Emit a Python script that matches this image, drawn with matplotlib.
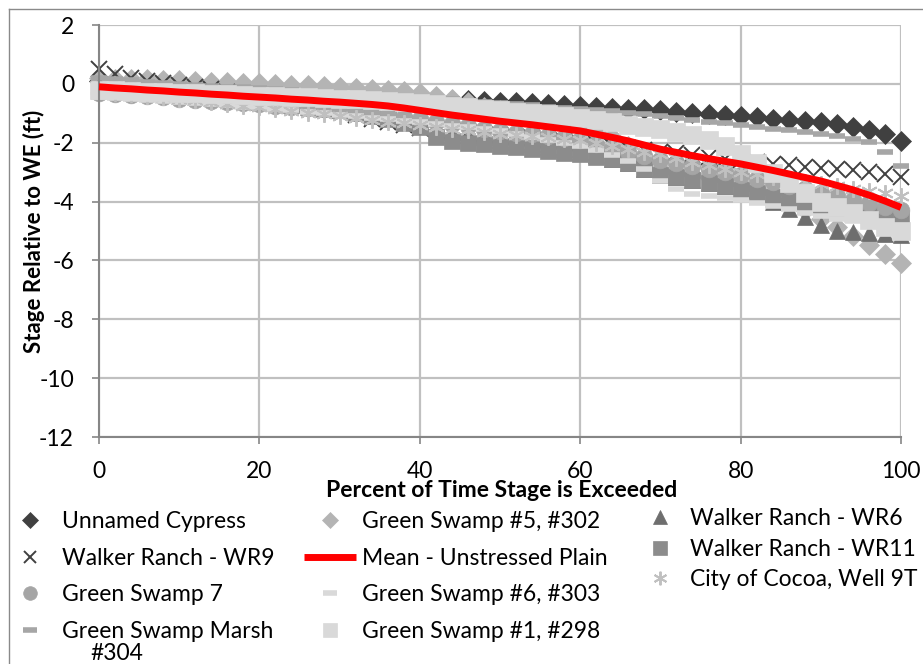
import numpy as np
import matplotlib
matplotlib.use("Agg")
import matplotlib.pyplot as plt
from matplotlib.lines import Line2D

plt.rcParams['font.family'] = ['Lato', 'DejaVu Sans']
plt.rcParams['axes.unicode_minus'] = False

# percent of time each stage is exceeded (shared by every well / wetland)
pct = np.arange(0, 101, 2)

unnamed_cypress = [
    0.10, 0.04, -0.01, -0.06, -0.11, -0.15, -0.18, -0.21, -0.24, -0.27,
    -0.30, -0.32, -0.34, -0.36, -0.38, -0.40, -0.42, -0.44, -0.46, -0.48,
    -0.50, -0.52, -0.54, -0.56, -0.58, -0.60, -0.63, -0.66, -0.69, -0.72,
    -0.75, -0.78, -0.81, -0.84, -0.87, -0.90, -0.94, -0.98, -1.02, -1.06,
    -1.10, -1.14, -1.18, -1.22, -1.26, -1.30, -1.38, -1.46, -1.56, -1.70,
    -1.95]
green_swamp_5 = [
    0.20, 0.18, 0.17, 0.15, 0.14, 0.12, 0.10, 0.08, 0.06, 0.04,
    0.02, 0.00, -0.03, -0.05, -0.08, -0.10, -0.13, -0.17, -0.20, -0.25,
    -0.30, -0.40, -0.50, -0.63, -0.77, -0.90, -1.00, -1.10, -1.21, -1.33,
    -1.45, -1.62, -1.80, -2.10, -2.70, -2.90, -2.98, -3.06, -3.16, -3.28,
    -3.40, -3.56, -3.72, -3.96, -4.28, -4.60, -4.88, -5.16, -5.46, -5.78,
    -6.10]
walker_wr6 = [
    0.00, -0.04, -0.08, -0.12, -0.16, -0.20, -0.25, -0.30, -0.35, -0.40,
    -0.45, -0.52, -0.59, -0.66, -0.73, -0.80, -0.90, -1.00, -1.10, -1.20,
    -1.30, -1.46, -1.62, -1.74, -1.82, -1.90, -1.98, -2.06, -2.14, -2.22,
    -2.30, -2.42, -2.54, -2.70, -2.90, -3.10, -3.18, -3.26, -3.36, -3.48,
    -3.60, -3.80, -4.00, -4.24, -4.52, -4.80, -5.00, -5.05, -5.08, -5.10,
    -5.12]
walker_wr9 = [
    0.50, 0.35, 0.20, 0.10, 0.02, -0.05, -0.12, -0.19, -0.26, -0.33,
    -0.40, -0.50, -0.60, -0.70, -0.80, -0.90, -1.05, -1.20, -1.30, -1.40,
    -1.50, -1.55, -1.60, -1.65, -1.70, -1.75, -1.80, -1.85, -1.90, -1.95,
    -2.00, -2.06, -2.12, -2.18, -2.24, -2.30, -2.36, -2.42, -2.48, -2.54,
    -2.60, -2.66, -2.72, -2.77, -2.81, -2.85, -2.89, -2.93, -2.98, -3.05,
    -3.15]
walker_wr11 = [
    -0.20, -0.24, -0.28, -0.32, -0.36, -0.40, -0.44, -0.48, -0.52, -0.56,
    -0.60, -0.66, -0.72, -0.78, -0.84, -0.90, -1.00, -1.10, -1.20, -1.32,
    -1.45, -1.80, -1.95, -2.00, -2.05, -2.10, -2.16, -2.22, -2.28, -2.34,
    -2.40, -2.48, -2.56, -2.70, -2.90, -3.10, -3.18, -3.26, -3.36, -3.48,
    -3.60, -3.72, -3.84, -3.95, -4.05, -4.15, -4.23, -4.31, -4.39, -4.47,
    -4.55]
green_swamp_7 = [
    -0.30, -0.34, -0.38, -0.42, -0.46, -0.50, -0.54, -0.58, -0.62, -0.66,
    -0.70, -0.74, -0.78, -0.82, -0.86, -0.90, -0.95, -1.00, -1.06, -1.12,
    -1.20, -1.28, -1.36, -1.44, -1.52, -1.60, -1.66, -1.72, -1.78, -1.84,
    -1.90, -2.04, -2.18, -2.32, -2.46, -2.60, -2.70, -2.80, -2.90, -3.00,
    -3.10, -3.22, -3.34, -3.46, -3.58, -3.70, -3.82, -3.94, -4.06, -4.18,
    -4.30]
green_swamp_6 = [
    -0.45, -0.49, -0.52, -0.56, -0.59, -0.63, -0.66, -0.70, -0.73, -0.77,
    -0.80, -0.85, -0.90, -0.95, -1.00, -1.05, -1.10, -1.15, -1.20, -1.25,
    -1.30, -1.36, -1.42, -1.48, -1.54, -1.60, -1.70, -1.80, -1.90, -2.00,
    -2.10, -2.26, -2.42, -2.63, -2.90, -3.30, -3.57, -3.73, -3.80, -3.88,
    -3.95, -4.05, -4.15, -4.26, -4.38, -4.50, -4.58, -4.66, -4.74, -4.82,
    -4.90]
city_of_cocoa = [
    -0.25, -0.30, -0.35, -0.40, -0.45, -0.50, -0.56, -0.62, -0.68, -0.74,
    -0.80, -0.86, -0.92, -0.98, -1.04, -1.10, -1.16, -1.22, -1.28, -1.34,
    -1.40, -1.46, -1.52, -1.58, -1.64, -1.70, -1.74, -1.78, -1.82, -1.86,
    -1.90, -2.00, -2.10, -2.20, -2.30, -2.40, -2.52, -2.64, -2.76, -2.88,
    -3.00, -3.08, -3.16, -3.24, -3.32, -3.40, -3.48, -3.56, -3.64, -3.72,
    -3.80]
green_swamp_marsh = [
    0.20, 0.16, 0.12, 0.08, 0.04, 0.00, -0.03, -0.06, -0.09, -0.12,
    -0.15, -0.18, -0.21, -0.24, -0.27, -0.30, -0.33, -0.36, -0.39, -0.42,
    -0.45, -0.49, -0.53, -0.57, -0.61, -0.65, -0.69, -0.73, -0.77, -0.81,
    -0.85, -0.89, -0.93, -0.98, -1.04, -1.10, -1.16, -1.22, -1.28, -1.34,
    -1.40, -1.46, -1.52, -1.58, -1.64, -1.70, -1.78, -1.86, -1.98, -2.30,
    -2.80]
green_swamp_1 = [
    -0.20, -0.22, -0.24, -0.26, -0.28, -0.30, -0.32, -0.34, -0.36, -0.38,
    -0.40, -0.42, -0.44, -0.46, -0.48, -0.50, -0.53, -0.56, -0.59, -0.62,
    -0.65, -0.70, -0.75, -0.80, -0.85, -0.90, -0.94, -0.98, -1.03, -1.09,
    -1.15, -1.23, -1.31, -1.39, -1.47, -1.55, -1.65, -1.75, -1.90, -2.10,
    -2.40, -2.70, -3.03, -3.37, -3.70, -4.00, -4.20, -4.40, -4.62, -4.85,
    -5.00]
mean_unstressed = [
    -0.10, -0.14, -0.17, -0.21, -0.24, -0.28, -0.31, -0.35, -0.38, -0.42,
    -0.45, -0.48, -0.52, -0.55, -0.59, -0.62, -0.66, -0.70, -0.75, -0.82,
    -0.90, -0.98, -1.06, -1.13, -1.20, -1.27, -1.33, -1.39, -1.46, -1.53,
    -1.60, -1.71, -1.82, -1.94, -2.08, -2.22, -2.33, -2.44, -2.54, -2.63,
    -2.72, -2.83, -2.94, -3.06, -3.18, -3.30, -3.45, -3.60, -3.78, -3.98,
    -4.20]

fig = plt.figure(figsize=(9.23, 6.64), dpi=100)
ax = fig.add_axes([99 / 923, 227 / 664, 802 / 923, 412 / 664])

star = (6, 2, 0)
series = [
    # (values, label, marker, color, size, edge width)
    (unnamed_cypress, "Unnamed Cypress", "D", "#404040", 10.5, 0),
    (green_swamp_5, "Green Swamp #5, #302", "D", "#b4b4b4", 10.5, 0),
    (walker_wr6, "Walker Ranch - WR6", "^", "#6e6e6e", 12, 0),
    (walker_wr9, "Walker Ranch - WR9", "x", "#404040", 11, 1.4),
    (walker_wr11, "Walker Ranch - WR11", "s", "#8c8c8c", 12, 0),
    (green_swamp_7, "Green Swamp 7", "o", "#a5a5a5", 12, 0),
    (green_swamp_6, "Green Swamp #6, #303", "_", "#d9d9d9", 12, 4),
    (city_of_cocoa, "City of Cocoa, Well 9T", star, "#c0c0c0", 12, 1.4),
    (green_swamp_marsh, "Green Swamp Marsh", "_", "#a6a6a6", 12, 4),
    (green_swamp_1, "Green Swamp #1, #298", "s", "#d9d9d9", 13, 0),
]

handles = {}
for vals, label, mk, col, ms, mew in series:
    filled = mk not in ("x", "_") and mk != star
    ln, = ax.plot(pct, vals, linestyle="none", marker=mk, ms=ms,
                  color=col, mfc=col if filled else "none", mec=col,
                  mew=mew if mew else 0.5, clip_on=False, label=label)
    handles[label] = ln

mean_ln, = ax.plot(pct, mean_unstressed, color="#ff0000", lw=5,
                   solid_capstyle="butt", clip_on=False, zorder=5,
                   label="Mean - Unstressed Plain")
handles["Mean - Unstressed Plain"] = mean_ln

ax.set_xlim(0, 100)
ax.set_ylim(-12, 2)
ax.set_xticks(np.arange(0, 101, 20))
ax.set_yticks(np.arange(-12, 3, 2))
ax.grid(True, color="#c0c0c0", lw=1.6)
ax.set_axisbelow(True)
for side in ("top", "right"):
    ax.spines[side].set_visible(False)
for side in ("left", "bottom"):
    ax.spines[side].set_color("#868686")
    ax.spines[side].set_linewidth(1.5)
ax.tick_params(axis="both", colors="#868686", labelcolor="black",
               labelsize=16.5, length=5, width=1.2, direction="out")
ax.tick_params(axis="y", pad=13)
ax.tick_params(axis="x", pad=12)

fig.text(34 / 923, 1 - 231 / 664, "Stage Relative to WE (ft)", rotation=90,
         ha="center", va="center", fontsize=16, fontweight="bold")
fig.text(502 / 923, 1 - 497 / 664, "Percent of Time Stage is Exceeded",
         ha="center", va="baseline", fontsize=16.5, fontweight="bold")

# legend: first two columns together, third column on its own
leg_font = 16.5
left_cols = ["Unnamed Cypress", "Walker Ranch - WR9", "Green Swamp 7",
             "Green Swamp Marsh",
             "Green Swamp #5, #302", "Mean - Unstressed Plain",
             "Green Swamp #6, #303", "Green Swamp #1, #298"]
right_col = ["Walker Ranch - WR6", "Walker Ranch - WR11",
             "City of Cocoa, Well 9T"]
fig.legend([handles[k] for k in left_cols], left_cols, ncol=2,
           loc="upper left", bbox_to_anchor=(4 / 923, 1 - 511 / 664),
           frameon=False, borderpad=0, borderaxespad=0,
           fontsize=leg_font, handlelength=2.27, handletextpad=0.26,
           columnspacing=1.3, labelspacing=0.68, markerscale=0.82)
fig.legend([handles[k] for k in right_col], right_col,
           loc="upper left", bbox_to_anchor=(637 / 923, 1 - 508 / 664),
           frameon=False, borderpad=0, borderaxespad=0,
           fontsize=leg_font, handlelength=2.0, handletextpad=0.3,
           labelspacing=0.42, markerscale=0.82)
# second line of the wrapped marsh label
fig.text(90 / 923, 1 - 653 / 664, "#304", ha="left", va="center",
         fontsize=leg_font)

# outer chart frame
fig.add_artist(Line2D([9 / 923, 9 / 923], [0, 1 - 9 / 664],
                      transform=fig.transFigure, color="#8a8a8a", lw=1))
fig.add_artist(Line2D([9 / 923, 1], [1 - 9 / 664, 1 - 9 / 664],
                      transform=fig.transFigure, color="#8a8a8a", lw=1))

fig.savefig("out.png", dpi=100)
